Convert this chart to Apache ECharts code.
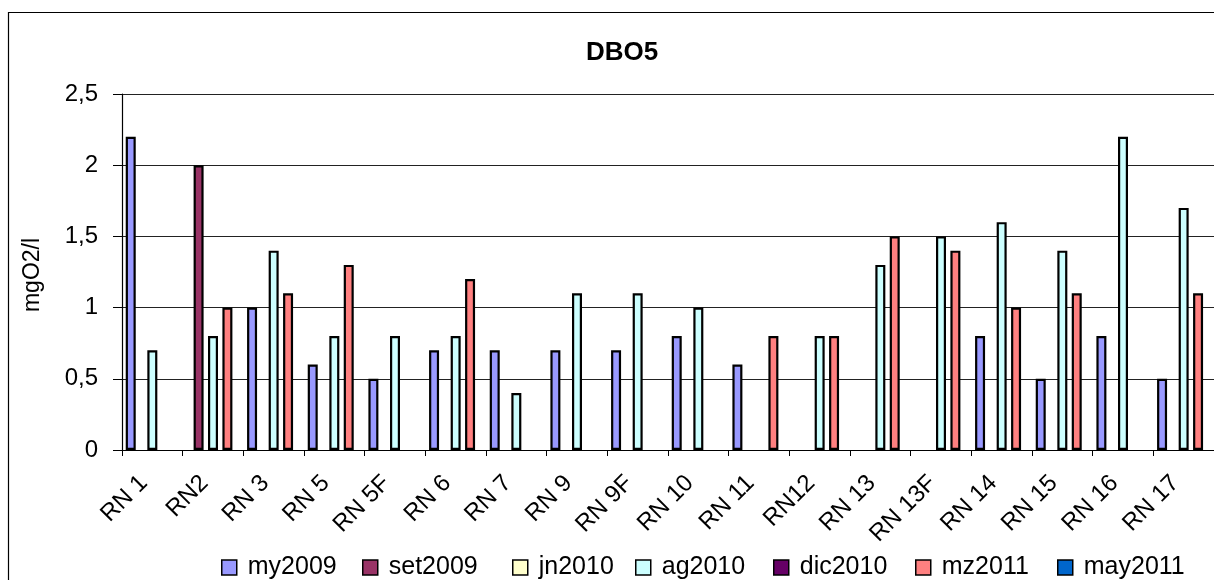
<!DOCTYPE html>
<html>
<head>
<meta charset="utf-8">
<script src="https://cdn.jsdelivr.net/npm/echarts@6/dist/echarts.min.js"></script>
<style>
html,body{margin:0;padding:0;background:#fff;}
#c{width:1214px;height:580px;}
</style>
</head>
<body>
<div id="c"></div>
<script>
const categories = ['RN 1','RN2','RN 3','RN 5','RN 5F','RN 6','RN 7','RN 9','RN 9F','RN 10','RN 11','RN12','RN 13','RN 13F','RN 14','RN 15','RN 16','RN 17'];
const seriesNames = ['my2009','set2009','jn2010','ag2010','dic2010','mz2011','may2011'];
const my2009  = [2.2, null, 1.0, 0.6, 0.5, 0.7, 0.7, 0.7, 0.7, 0.8, 0.6, null, null, null, 0.8, 0.5, 0.8, 0.5];
const set2009 = [null, 2.0, null, null, null, null, null, null, null, null, null, null, null, null, null, null, null, null];
const jn2010  = [null, null, null, null, null, null, null, null, null, null, null, null, null, null, null, null, null, null];
const ag2010  = [0.7, 0.8, 1.4, 0.8, 0.8, 0.8, 0.4, 1.1, 1.1, 1.0, null, 0.8, 1.3, 1.5, 1.6, 1.4, 2.2, 1.7];
const dic2010 = [null, null, null, null, null, null, null, null, null, null, null, null, null, null, null, null, null, null];
const mz2011  = [null, 1.0, 1.1, 1.3, null, 1.2, null, null, null, null, 0.8, 0.8, 1.5, 1.4, 1.0, 1.1, null, 1.1];
const may2011 = [null, null, null, null, null, null, null, null, null, null, null, null, null, null, null, null, null, null];
const yTicks = [0, 0.5, 1, 1.5, 2, 2.5];
const titleText = 'DBO5';
const yName = 'mgO2/l';

const seriesData = [my2009, set2009, jn2010, ag2010, dic2010, mz2011, may2011];
const colors = ['#9999FF','#993366','#FFFFCC','#CCFFFF','#660066','#FF8080','#0066CC'];
const legendLefts = [221, 362, 512, 635, 773, 915, 1057];
const FONT = 'Liberation Sans';

const chart = echarts.init(document.getElementById('c'), null, {renderer:'canvas'});
const option = {
  animation: false,
  backgroundColor: '#fff',
  color: colors,
  textStyle: {fontFamily: FONT, color: '#000'},
  title: {
    text: titleText, left: 617, top: 35, textAlign: 'center',
    textStyle: {fontFamily: FONT, fontWeight: 'bold', fontSize: 26, color: '#000'}
  },
  graphic: [{
    type: 'rect', silent: true, z: -1,
    shape: {x: 8.5, y: 12.5, width: 1400, height: 800},
    style: {fill: 'none', stroke: '#000', lineWidth: 1.2}
  }, {
    type: 'text', x: 33, y: 275, rotation: Math.PI/2,
    style: {text: yName, fontFamily: FONT, fontSize: 23, fill: '#000', align: 'center', verticalAlign: 'middle'}
  }],
  legend: seriesNames.map((n, i) => ({
    data: [n], left: legendLefts[i], top: 555, padding: 0, icon: 'rect',
    itemWidth: 15, itemHeight: 15, selectedMode: false,
    itemStyle: {borderColor: '#000', borderWidth: 1.5},
    textStyle: {fontFamily: FONT, fontSize: 25, color: '#000', padding: [0,0,0,6]}
  })),
  grid: {left: 122, right: -6, top: 94, bottom: 130, containLabel: false},
  xAxis: {
    type: 'category', data: categories,
    axisLine: {show: true, lineStyle: {color: '#000', width: 1.2}},
    axisTick: {show: true, length: 6, lineStyle: {color: '#000'}},
    axisLabel: {rotate: 45, interval: 0, margin: 21, fontFamily: FONT, fontSize: 24, color: '#000',
      padding: [0, 12, 0, 0]},
    splitLine: {show: false}
  },
  yAxis: {
    type: 'value', min: 0, max: 2.5, interval: 0.5,
    axisLine: {show: true, lineStyle: {color: '#000', width: 1.2}},
    axisTick: {show: true, length: 9, lineStyle: {color: '#000'}},
    axisLabel: {margin: 24, fontFamily: FONT, fontSize: 24, color: '#000',
      formatter: v => String(v).replace('.', ',')},
    splitLine: {show: true, lineStyle: {color: '#222', width: 1}}
  },
  series: seriesNames.map((n, i) => ({
    name: n, type: 'bar', data: seriesData[i],
    barWidth: 10, barGap: '-28%',
    itemStyle: {color: colors[i], borderColor: '#000', borderWidth: 2.2}
  }))
};
chart.setOption(option);
</script>
</body>
</html>
